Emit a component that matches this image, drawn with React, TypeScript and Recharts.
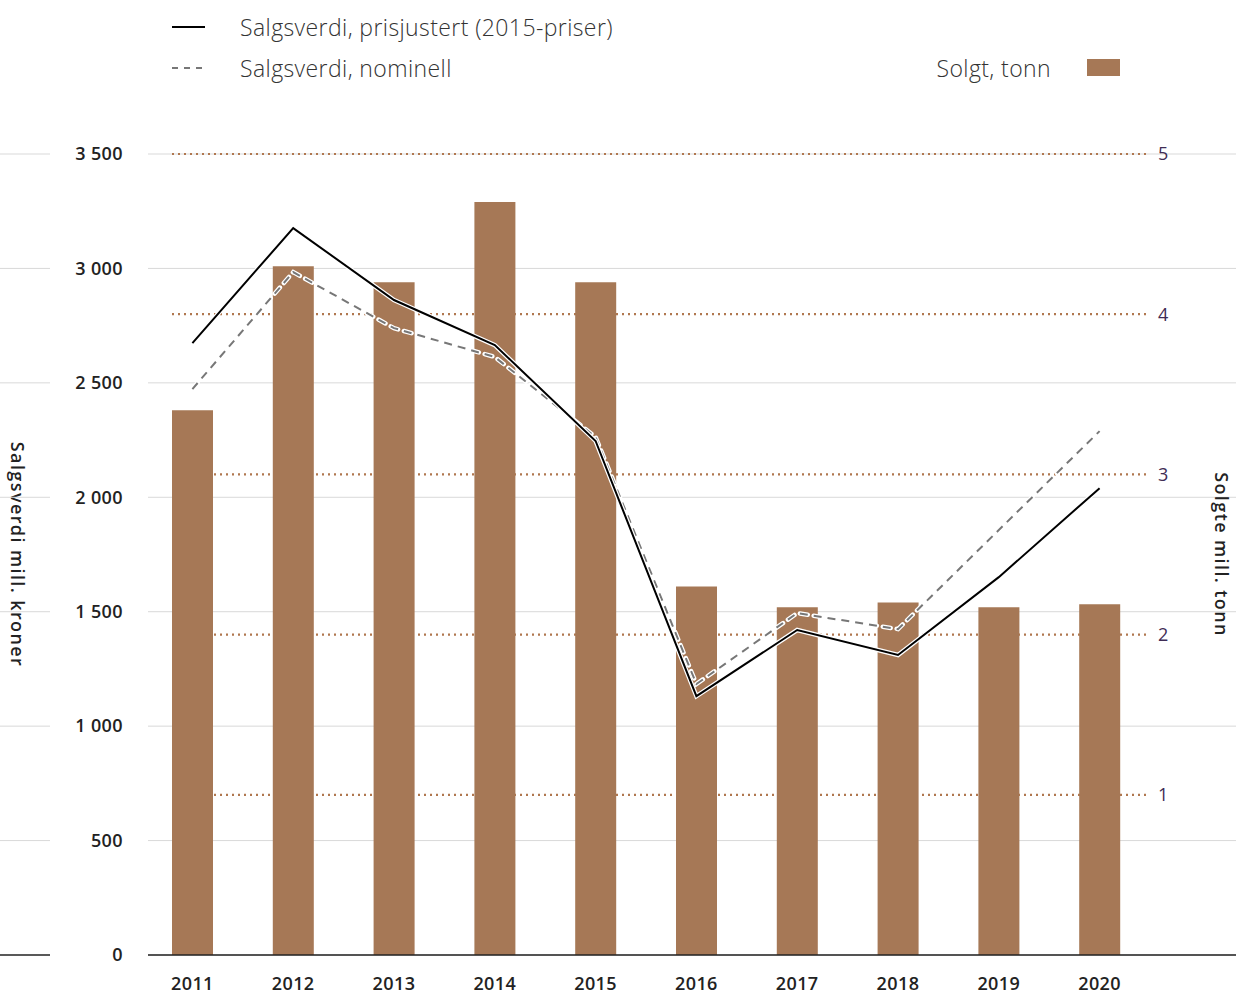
import React from "react";
import {
  ComposedChart,
  Bar,
  Line,
  XAxis,
  YAxis,
  CartesianGrid,
  ReferenceLine,
} from "recharts";

const YEARS = ["2011", "2012", "2013", "2014", "2015", "2016", "2017", "2018", "2019", "2020"];
// Solgte mill. tonn (høyre akse)
const SOLD_TONNES = [3.4, 4.3, 4.2, 4.7, 4.2, 2.3, 2.17, 2.2, 2.17, 2.19];
// Salgsverdi mill. kroner (venstre akse)
const VALUE_REAL = [2674, 3176, 2862, 2665, 2246, 1131, 1420, 1311, 1651, 2040];
const VALUE_NOMINAL = [2473, 2984, 2739, 2613, 2263, 1184, 1494, 1424, 1857, 2289];

const LEFT_TICKS = [0, 500, 1000, 1500, 2000, 2500, 3000, 3500];
const RIGHT_TICKS = [1, 2, 3, 4, 5];

const NAME_REAL = "Salgsverdi, prisjustert (2015-priser)";
const NAME_NOMINAL = "Salgsverdi, nominell";
const NAME_SOLD = "Solgt, tonn";
const LEFT_TITLE = "Salgsverdi mill. kroner";
const RIGHT_TITLE = "Solgte mill. tonn";

const BAR_COLOR = "#a67856";
const DOT_COLOR = "#b0774f";
const GRID_COLOR = "#d9d9d9";
const FONT = "'Open Sans', sans-serif";

const W = 1236;
const H = 994;

const data = YEARS.map((year, i) => ({
  year,
  sold: SOLD_TONNES[i],
  real: VALUE_REAL[i],
  nominal: VALUE_NOMINAL[i],
}));

const fmt = (v: number) => String(v).replace(/\B(?=(\d{3})+(?!\d))/g, "\u00a0");

function LeftTick(props: any) {
  const { x, y, payload } = props;
  const zero = payload.value === 0;
  const stroke = zero ? "#222" : GRID_COLOR;
  return (
    <g>
      <line x1={0} x2={50} y1={y} y2={y} stroke={stroke} strokeWidth={zero ? 1.5 : 1} />
      {zero && <line x1={148} x2={W} y1={y} y2={y} stroke="#222" strokeWidth={1.5} />}
      <text x={x} y={y} dy="0.35em" textAnchor="end" fontSize={18} fontWeight={600} letterSpacing={0.4} fill="#222" fontFamily={FONT}>
        {fmt(payload.value)}
      </text>
    </g>
  );
}

function RightTick(props: any) {
  const { x, y, payload } = props;
  return (
    <text x={x} y={y} dy="0.35em" textAnchor="start" fontSize={18} fontWeight={500} fill="#3f2c55" fontFamily={FONT}>
      {payload.value}
    </text>
  );
}

function XTick(props: any) {
  const { x, y, payload } = props;
  return (
    <text x={x} y={y} dy="0.71em" textAnchor="middle" fontSize={18} fontWeight={600} letterSpacing={0.4} fill="#222" fontFamily={FONT}>
      {payload.value}
    </text>
  );
}

const axisTitle = (text: string, side: "left" | "right") => (props: any) => {
  const vb = props.viewBox;
  const cx = side === "left" ? vb.x + 18 : vb.x + vb.width - 14;
  const cy = vb.y + vb.height / 2;
  return (
    <text
      x={cx}
      y={cy}
      textAnchor="middle"
      dominantBaseline="central"
      transform={`rotate(90 ${cx} ${cy})`}
      fontSize={18}
      fontWeight={600}
      letterSpacing={1.4}
      fill="#222"
      fontFamily={FONT}
    >
      {text}
    </text>
  );
};

// prikket linje fra første søyle til høyre akse
const dottedShape = (p: any) => (
  <line
    x1={172}
    x2={Math.max(p.x1, p.x2)}
    y1={p.y1}
    y2={p.y2}
    stroke={DOT_COLOR}
    strokeWidth={2.2}
    strokeDasharray="2 4"
  />
);

const legendText: React.CSSProperties = {
  position: "absolute",
  fontFamily: FONT,
  fontSize: 23,
  fontWeight: 300,
  letterSpacing: 0.4,
  color: "#333",
  lineHeight: "30px",
  whiteSpace: "nowrap",
};

export default function App() {
  return (
    <div style={{ position: "absolute", left: 0, top: 0, width: W, height: H, background: "#fff" }}>
      <svg style={{ position: "absolute", left: 0, top: 0 }} width={W} height={100}>
        <line x1={172} x2={205} y1={27} y2={27} stroke="#000" strokeWidth={2} />
        <line x1={172} x2={207} y1={68} y2={68} stroke="#777" strokeWidth={2} strokeDasharray="6 6" />
        <rect x={1087} y={59} width={33} height={17} fill={BAR_COLOR} />
      </svg>
      <div style={{ ...legendText, left: 240, top: 12 }}>{NAME_REAL}</div>
      <div style={{ ...legendText, left: 240, top: 53 }}>{NAME_NOMINAL}</div>
      <div style={{ ...legendText, right: W - 1051, top: 53 }}>{NAME_SOLD}</div>

      <div style={{ position: "absolute", left: 0, top: 0 }}>
        <ComposedChart
          width={W}
          height={H}
          data={data}
          margin={{ top: 154, right: 0, bottom: 0, left: 0 }}
          style={{ fontFamily: FONT }}
        >
          <CartesianGrid horizontal vertical={false} stroke={GRID_COLOR} x={148} width={W - 148} />
          {RIGHT_TICKS.map((t) => (
            <ReferenceLine key={t} yAxisId="right" y={t} shape={dottedShape} zIndex={-50} />
          ))}
          <XAxis
            dataKey="year"
            axisLine={false}
            tickLine={false}
            tickSize={0}
            tickMargin={22}
            height={39}
            tick={<XTick />}
            interval={0}
          />
          <YAxis
            domain={[0, 3500]}
            ticks={LEFT_TICKS}
            width={142}
            axisLine={false}
            tickLine={false}
            tickMargin={13}
            tick={<LeftTick />}
            label={axisTitle(LEFT_TITLE, "left")}
          />
          <YAxis
            yAxisId="right"
            orientation="right"
            domain={[0, 5]}
            ticks={RIGHT_TICKS}
            width={86}
            axisLine={false}
            tickLine={false}
            tick={<RightTick />}
            label={axisTitle(RIGHT_TITLE, "right")}
          />
          <Bar yAxisId="right" dataKey="sold" name={NAME_SOLD} fill={BAR_COLOR} barSize={41} isAnimationActive={false} />
          <Line
            dataKey="nominal"
            stroke="#fff"
            strokeWidth={4.5}
            strokeDasharray="8 6"
            strokeLinecap="round"
            dot={false}
            activeDot={false}
            legendType="none"
            isAnimationActive={false}
          />
          <Line
            dataKey="nominal"
            name={NAME_NOMINAL}
            stroke="#777"
            strokeWidth={2}
            strokeDasharray="8 6"
            dot={false}
            activeDot={false}
            isAnimationActive={false}
          />
          <Line
            dataKey="real"
            stroke="#fff"
            strokeWidth={4.5}
            dot={false}
            activeDot={false}
            legendType="none"
            isAnimationActive={false}
          />
          <Line
            dataKey="real"
            name={NAME_REAL}
            stroke="#000"
            strokeWidth={2}
            dot={false}
            activeDot={false}
            isAnimationActive={false}
          />
        </ComposedChart>
      </div>
    </div>
  );
}
